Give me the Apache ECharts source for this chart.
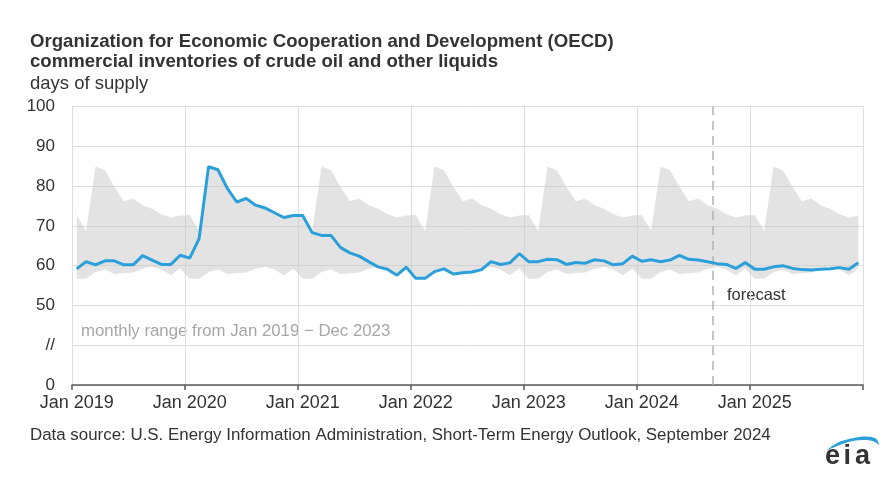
<!DOCTYPE html>
<html>
<head>
<meta charset="utf-8">
<script src="https://cdn.jsdelivr.net/npm/echarts@6/dist/echarts.min.js"></script>
<style>
html,body{margin:0;padding:0;background:#fff;}
#chart{width:895px;height:485px;}
</style>
</head>
<body>
<div id="chart"></div>
<script>
// ---- data ----
var years = [2019, 2020, 2021, 2022, 2023, 2024, 2025];
var monthNames = ['Jan','Feb','Mar','Apr','May','Jun','Jul','Aug','Sep','Oct','Nov','Dec'];

// monthly range Jan 2019 - Dec 2023 (days of supply), Jan..Dec
var bandHigh = [72.7, 68.7, 84.9, 84.0, 79.8, 76.2, 76.9, 75.2, 74.3, 72.9, 72.1, 72.6];
var bandLow  = [56.7, 56.7, 58.4, 59.0, 57.9, 58.1, 58.3, 59.2, 59.7, 59.0, 57.6, 59.3];

// OECD commercial inventories, days of supply, Jan 2019 - Dec 2025
var inv2019 = [59.2, 61.0, 60.2, 61.2, 61.2, 60.2, 60.2, 62.5, 61.4, 60.3, 60.3, 62.6];
var inv2020 = [61.9, 66.8, 84.9, 84.1, 79.4, 76.0, 76.9, 75.2, 74.5, 73.3, 72.1, 72.6];
var inv2021 = [72.6, 68.3, 67.6, 67.6, 64.6, 63.2, 62.4, 61.0, 59.7, 59.1, 57.6, 59.6];
var inv2022 = [56.8, 56.8, 58.5, 59.2, 57.9, 58.2, 58.4, 59.0, 61.0, 60.3, 60.7, 63.0];
var inv2023 = [61.0, 61.0, 61.6, 61.5, 60.3, 60.8, 60.6, 61.5, 61.2, 60.2, 60.5, 62.4];
var inv2024 = [61.1, 61.5, 61.0, 61.4, 62.6, 61.6, 61.4, 61.0, 60.5, 60.3, 59.3, 60.8];
var inv2025 = [59.1, 59.1, 59.7, 60.0, 59.3, 59.0, 58.9, 59.1, 59.2, 59.5, 59.1, 60.7];

var forecastStart = 68; // month index where forecast begins (Sep 2024)
var yTicks = {30: '0', 40: '//'};

// ---- build ----
var categories = [];
years.forEach(function (y) { monthNames.forEach(function (m) { categories.push(m + ' ' + y); }); });
var inventory = [].concat(inv2019, inv2020, inv2021, inv2022, inv2023, inv2024, inv2025);
var bandBase = categories.map(function (c, i) { return bandLow[i % 12]; });
var bandSpan = categories.map(function (c, i) { return +(bandHigh[i % 12] - bandLow[i % 12]).toFixed(2); });

var FONT = '"Liberation Sans", Arial, Helvetica, sans-serif';
var chart = echarts.init(document.getElementById('chart'), null, {renderer: 'canvas'});

chart.setOption({
  animation: false,
  backgroundColor: '#ffffff',
  textStyle: {fontFamily: FONT},
  grid: {left: 72, right: 32, top: 106.5, bottom: 100, containLabel: false},
  xAxis: [{
    type: 'category',
    data: categories,
    boundaryGap: true,
    axisLine: {show: true, lineStyle: {color: '#5a5a5a', width: 1.5}},
    axisTick: {show: true, interval: 11, length: 5, lineStyle: {color: '#5a5a5a', width: 1.5}},
    axisLabel: {interval: 11, color: '#333', fontSize: 18, fontFamily: FONT, margin: 9},
    splitLine: {show: true, interval: 11, lineStyle: {color: '#dedede', width: 1}}
  }, {
    type: 'value', min: 0, max: categories.length, show: false
  }],
  yAxis: {
    type: 'value', min: 30, max: 100, interval: 10,
    axisLine: {show: false}, axisTick: {show: false},
    axisLabel: {color: '#333', fontSize: 17, fontFamily: FONT, margin: 17,
      formatter: function (v) { return yTicks[v] !== undefined ? yTicks[v] : String(v); }},
    splitLine: {lineStyle: {color: '#dedede', width: 1}}
  },
  series: [{
    type: 'line', stack: 'band', data: bandBase, symbol: 'none', silent: true,
    lineStyle: {opacity: 0}, itemStyle: {opacity: 0}
  }, {
    type: 'line', stack: 'band', data: bandSpan, symbol: 'none', silent: true,
    lineStyle: {opacity: 0},
    areaStyle: {color: 'rgba(200,200,200,0.5)', opacity: 1}
  }, {
    type: 'line', data: inventory, symbol: 'none', silent: true,
    lineStyle: {color: '#2a9fd9', width: 3},
    z: 5
  }, {
    type: 'line', xAxisIndex: 1, data: [], silent: true,
    markLine: {
      silent: true, symbol: ['none', 'none'], label: {show: false},
      lineStyle: {color: '#b3b3b3', type: [9, 6], width: 1.5},
      data: [{xAxis: forecastStart}]
    }
  }],
  graphic: [
    {type: 'text', x: 30, y: 32, style: {text: 'Organization for Economic Cooperation and Development (OECD)', font: 'bold 18.6px ' + FONT, fill: '#333'}},
    {type: 'text', x: 30, y: 52.5, style: {text: 'commercial inventories of crude oil and other liquids', font: 'bold 18.6px ' + FONT, fill: '#333'}},
    {type: 'text', x: 30, y: 74, style: {text: 'days of supply', font: '18.5px ' + FONT, fill: '#333'}},
    {type: 'text', x: 81, y: 323, style: {text: 'monthly range from Jan 2019 \u2212 Dec 2023', font: '16.8px ' + FONT, fill: '#a6a6a6'}},
    {type: 'text', x: 727, y: 286.5, style: {text: 'forecast', font: '16.5px ' + FONT, fill: '#333'}},
    {type: 'text', x: 30, y: 427, style: {text: 'Data source: U.S. Energy Information Administration, Short-Term Energy Outlook, September 2024', font: '16.9px ' + FONT, fill: '#333'}},
    {type: 'text', x: 825, y: 443, style: {text: 'e', font: 'bold 27px ' + FONT, fill: '#333'}},
    {type: 'text', x: 843.5, y: 443, style: {text: 'i', font: 'bold 27px ' + FONT, fill: '#333'}},
    {type: 'text', x: 855, y: 443, style: {text: 'a', font: 'bold 27px ' + FONT, fill: '#333'}},
    {type: 'polygon', shape: {smooth: 0.25, points: [[827,450],[838,442.5],[851,438.5],[864,436.5],[872,437],[877,439.5],[879,445],[876,442.5],[870,440.5],[862,440],[850,441.5],[836,446.5]]}, style: {fill: '#2a9fd9'}}
  ]
});
</script>
</body>
</html>
